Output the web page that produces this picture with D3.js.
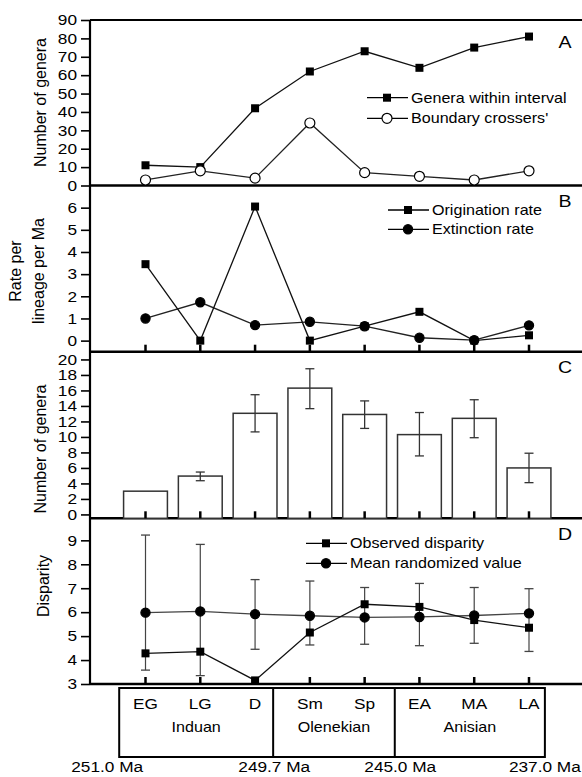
<!DOCTYPE html>
<html>
<head>
<meta charset="utf-8">
<script src="https://cdnjs.cloudflare.com/ajax/libs/d3/7.8.5/d3.min.js"></script>
<style>
  body { margin: 0; background: #fff; }
  svg { display: block; font-family: "Liberation Sans", Arial, Helvetica, sans-serif; }
</style>
</head>
<body>
<svg id="chart" width="582" height="777"></svg>
<script>
// intervals
const cats = ["EG", "LG", "D", "Sm", "Sp", "EA", "MA", "LA"];

// A
const generaWithin = [11, 10, 42, 62, 73, 64, 75, 81];
const boundaryCrossers = [3, 8, 4, 34, 7, 5, 3, 8];

// B
const originationRate = [3.45, 0, 6.05, 0, 0.65, 1.3, 0, 0.24];
const extinctionRate = [1.0, 1.73, 0.7, 0.85, 0.65, 0.13, 0.02, 0.69];

// C
const meanGenera = [3.0, 4.95, 13.05, 16.3, 12.9, 10.3, 12.4, 6.0];
const generaLow = [null, 4.35, 10.65, 13.65, 11.1, 7.55, 9.9, 4.1];
const generaHigh = [null, 5.47, 15.45, 18.8, 14.65, 13.15, 14.8, 7.9];

// D
const observedDisparity = [4.28, 4.35, 3.15, 5.15, 6.33, 6.22, 5.67, 5.35];
const randomizedDisparity = [5.98, 6.03, 5.92, 5.85, 5.78, 5.8, 5.86, 5.95];
const randomLow = [3.58, 3.35, 4.45, 4.63, 4.66, 4.6, 4.7, 4.36];
const randomHigh = [9.22, 8.83, 7.36, 7.3, 7.03, 7.2, 7.03, 6.98];

// timescale (positions in interval index units)
const stages = ["Induan", "Olenekian", "Anisian"];
const stageBounds = [-0.48, 2.33, 4.55, 7.29];
const ages = ["251.0 Ma", "249.7 Ma", "245.0 Ma", "237.0 Ma"];
const agePos = [-0.7, 2.35, 4.65, 7.29];

const svg = d3.select("#chart");
const left = 90, right = 582;
const SX = 1.15; // the printed figure is a little wider than its type

const x = d3.scalePoint().domain(cats).range([145.5, 529]);
const xi = d3.scaleLinear().domain([0, 7]).range([145.5, 529]);

const pA = { top: 20, bottom: 185.5 };
const pB = { top: 185.5, bottom: 351.7 };
const pC = { top: 351.7, bottom: 518.3 };
const pD = { top: 518.3, bottom: 684 };

const yA = d3.scaleLinear().domain([0, 90]).range([pA.bottom, pA.top]);
const yB = d3.scaleLinear().domain([-0.5, 7]).range([pB.bottom, pB.top]);
const yC = d3.scaleLinear().domain([-0.5, 21]).range([pC.bottom, pC.top]);
const yD = d3.scaleLinear().domain([3, 9.92]).range([pD.bottom, pD.top]);

function stext(g, tx, ty, str, size, anchor) {
  return g.append("text")
    .attr("transform", `translate(${tx},${ty}) scale(${SX},1)`)
    .attr("text-anchor", anchor || "start")
    .style("font-size", size + "px")
    .attr("fill", "#000")
    .text(str);
}

function yAxis(y, ticks, fs) {
  const g = svg.append("g")
    .attr("transform", `translate(${left},0)`)
    .call(d3.axisLeft(y).tickValues(ticks).tickSize(9).tickPadding(4).tickFormat(d3.format("d")));
  g.attr("font-family", null).attr("font-size", null);
  g.select(".domain").remove();
  g.selectAll(".tick line").attr("stroke", "#000").attr("stroke-width", 1.6);
  g.selectAll(".tick text")
    .attr("x", -13 / SX)
    .attr("transform", `scale(${SX},1)`)
    .style("font-size", fs + "px")
    .attr("fill", "#000");
}

function yTitle(tx, ty, str) {
  svg.append("text")
    .attr("transform", `translate(${tx},${ty}) rotate(-90)`)
    .attr("text-anchor", "middle")
    .attr("dominant-baseline", "central")
    .style("font-size", "16px")
    .text(str);
}

function bottomTicks(p) {
  svg.append("g").selectAll("line").data(cats).enter().append("line")
    .attr("x1", d => x(d)).attr("x2", d => x(d))
    .attr("y1", p.bottom).attr("y2", p.bottom - 7)
    .attr("stroke", "#000").attr("stroke-width", 2.5);
}

function squares(g, vals, y, size) {
  g.selectAll(null).data(vals).enter().append("rect")
    .attr("x", (d, i) => x(cats[i]) - size / 2)
    .attr("y", d => y(d) - size / 2)
    .attr("width", size).attr("height", size)
    .attr("fill", "#000");
}

function circles(g, vals, y, r, fill) {
  g.selectAll(null).data(vals).enter().append("circle")
    .attr("cx", (d, i) => x(cats[i]))
    .attr("cy", d => y(d))
    .attr("r", r)
    .attr("fill", fill)
    .attr("stroke", "#000").attr("stroke-width", 1.2);
}

function series(g, vals, y, color) {
  const line = d3.line().x((d, i) => x(cats[i])).y(d => y(d));
  g.append("path").datum(vals).attr("d", line)
    .attr("fill", "none").attr("stroke", color).attr("stroke-width", 1.3);
}

function legendRow(g, lx, ly, label, kind) {
  g.append("line").attr("x1", lx).attr("x2", lx + 41).attr("y1", ly).attr("y2", ly)
    .attr("stroke", "#000").attr("stroke-width", 1.3);
  if (kind === "square") {
    g.append("rect").attr("x", lx + 20 - 4).attr("y", ly - 4).attr("width", 8).attr("height", 8).attr("fill", "#000");
  } else {
    g.append("circle").attr("cx", lx + 20).attr("cy", ly).attr("r", kind === "open" ? 5 : 4.6)
      .attr("fill", kind === "open" ? "#fff" : "#000").attr("stroke", "#000").attr("stroke-width", 1.2);
  }
  stext(g, lx + 44, ly + 5, label, 14);
}

// ---- frame ----
svg.append("line").attr("x1", left).attr("x2", left).attr("y1", pA.top).attr("y2", pD.bottom)
  .attr("stroke", "#000").attr("stroke-width", 2.2);
svg.append("line").attr("x1", left).attr("x2", right).attr("y1", pA.top).attr("y2", pA.top)
  .attr("stroke", "#000").attr("stroke-width", 1.8);
[pA.bottom, pB.bottom, pC.bottom, pD.bottom].forEach(yy => {
  svg.append("line").attr("x1", left).attr("x2", right).attr("y1", yy).attr("y2", yy)
    .attr("stroke", "#000").attr("stroke-width", 2.6);
});

// ---- A ----
yAxis(yA, d3.range(0, 91, 10), 15);
yTitle(40.5, 102.5, "Number of genera");
const gA = svg.append("g");
series(gA, generaWithin, yA, "#111");
series(gA, boundaryCrossers, yA, "#222");
squares(gA, generaWithin, yA, 8);
circles(gA, boundaryCrossers, yA, 5, "#fff");
legendRow(gA, 367, 97.7, "Genera within interval", "square");
legendRow(gA, 367, 118.3, "Boundary crossers'", "open");
stext(svg, 565, 48, "A", 17, "middle");

// ---- B ----
yAxis(yB, d3.range(0, 7), 15);
svg.append("text")
  .attr("transform", "translate(15,271) rotate(-90)")
  .attr("text-anchor", "middle").attr("dominant-baseline", "central")
  .style("font-size", "16px").text("Rate per");
svg.append("text")
  .attr("transform", "translate(38,271) rotate(-90)")
  .attr("text-anchor", "middle").attr("dominant-baseline", "central")
  .style("font-size", "16px").text("lineage per Ma");
bottomTicks(pB);
const gB = svg.append("g");
series(gB, extinctionRate, yB, "#222");
series(gB, originationRate, yB, "#111");
circles(gB, extinctionRate, yB, 4.6, "#000");
squares(gB, originationRate, yB, 8);
legendRow(gB, 388, 210, "Origination rate", "square");
legendRow(gB, 388, 229.3, "Extinction rate", "filled");
stext(svg, 565, 207, "B", 17, "middle");

// ---- C ----
yAxis(yC, d3.range(0, 21, 2), 15);
yTitle(40, 449, "Number of genera");
const gC = svg.append("g");
const bw = x.step() * 0.8;
gC.selectAll(".bar").data(meanGenera).enter().append("rect")
  .attr("x", (d, i) => x(cats[i]) - bw / 2)
  .attr("y", d => yC(d))
  .attr("width", bw)
  .attr("height", d => pC.bottom - yC(d))
  .attr("fill", "#fff").attr("stroke", "#333").attr("stroke-width", 1.5);
bottomTicks(pC);
cats.forEach((c, i) => {
  if (generaLow[i] == null) return;
  const cx = x(c);
  gC.append("line").attr("x1", cx).attr("x2", cx).attr("y1", yC(generaLow[i])).attr("y2", yC(generaHigh[i]))
    .attr("stroke", "#333").attr("stroke-width", 1.3);
  [generaLow[i], generaHigh[i]].forEach(v => {
    gC.append("line").attr("x1", cx - 4.5).attr("x2", cx + 4.5).attr("y1", yC(v)).attr("y2", yC(v))
      .attr("stroke", "#333").attr("stroke-width", 1.3);
  });
});
stext(svg, 565, 373, "C", 17, "middle");

// ---- D ----
yAxis(yD, d3.range(3, 10), 15);
yTitle(43.5, 586, "Disparity");
bottomTicks(pD);
const gD = svg.append("g");
cats.forEach((c, i) => {
  const cx = x(c);
  gD.append("line").attr("x1", cx).attr("x2", cx).attr("y1", yD(randomLow[i])).attr("y2", yD(randomHigh[i]))
    .attr("stroke", "#444").attr("stroke-width", 1.2);
  [randomLow[i], randomHigh[i]].forEach(v => {
    gD.append("line").attr("x1", cx - 4.5).attr("x2", cx + 4.5).attr("y1", yD(v)).attr("y2", yD(v))
      .attr("stroke", "#444").attr("stroke-width", 1.3);
  });
});
series(gD, randomizedDisparity, yD, "#444");
series(gD, observedDisparity, yD, "#111");
circles(gD, randomizedDisparity, yD, 4.6, "#000");
squares(gD, observedDisparity, yD, 8);
legendRow(gD, 306, 543.3, "Observed disparity", "square");
legendRow(gD, 306, 563.3, "Mean randomized value", "filled");
stext(svg, 565, 540, "D", 17, "middle");

// ---- timescale ----
const gT = svg.append("g");
gT.append("rect")
  .attr("x", xi(stageBounds[0])).attr("y", 688)
  .attr("width", xi(stageBounds[3]) - xi(stageBounds[0])).attr("height", 69)
  .attr("fill", "none").attr("stroke", "#000").attr("stroke-width", 2);
stageBounds.slice(1, 3).forEach(b => {
  gT.append("line").attr("x1", xi(b)).attr("x2", xi(b)).attr("y1", 688).attr("y2", 757)
    .attr("stroke", "#000").attr("stroke-width", 2);
});
cats.forEach(c => stext(gT, x(c), 708.5, c, 15, "middle"));
stages.forEach((s, i) => stext(gT, (xi(stageBounds[i]) + xi(stageBounds[i + 1])) / 2, 731.5, s, 14, "middle"));
ages.forEach((a, i) => stext(gT, xi(agePos[i]), 772, a, 15, "middle"));
</script>
</body>
</html>
